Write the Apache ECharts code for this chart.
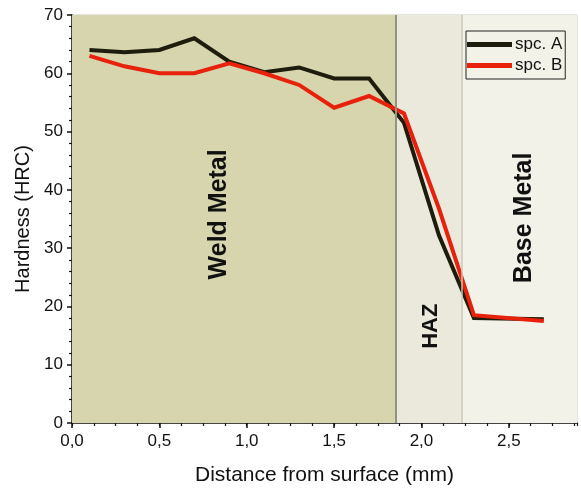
<!DOCTYPE html>
<html>
<head>
<meta charset="utf-8">
<script src="https://cdn.jsdelivr.net/npm/echarts@6/dist/echarts.min.js"></script>
<style>
html,body{margin:0;padding:0;background:#fff;}
#chart{width:581px;height:491px;}
</style>
</head>
<body>
<div id="chart"></div>
<script>
// ---- data ----
const distance = [0.1, 0.3, 0.5, 0.7, 0.9, 1.1, 1.3, 1.5, 1.7, 1.9, 2.1, 2.3, 2.7];
const spcA = [64, 63.6, 64, 66, 62, 60.2, 61, 59.1, 59.1, 51.5, 32.2, 18, 17.8];
const spcB = [63, 61.2, 60, 60, 61.7, 60, 58, 54.1, 56.1, 53.1, 36.8, 18.5, 17.5];
const seriesNames = ['spc. A', 'spc. B'];
const zoneNames = ['Weld Metal', 'HAZ', 'Base Metal'];
const zoneBounds = [0, 1.85, 2.23, 2.89];
const yTicks = [0, 10, 20, 30, 40, 50, 60, 70];
const xTicks = [0, 0.5, 1.0, 1.5, 2.0, 2.5];

const FONT = 'Liberation Sans, Arial, sans-serif';
const fmtComma = v => {
  const r = Math.round(v * 1000) / 1000;
  return xTicks.some(t => Math.abs(t - r) < 1e-6) ? r.toFixed(1).replace('.', ',') : '';
};

const chart = echarts.init(document.getElementById('chart'), null, {renderer: 'canvas'});

const zoneColors = ['#d6d5ad', '#ebe9dc', '#f3f2e8'];

const option = {
  backgroundColor: '#ffffff',
  animation: false,
  grid: {left: 72, right: 4, top: 15, bottom: 67, show: true, borderColor: '#c9c9c0', borderWidth: 1, containLabel: false},
  legend: {
    data: seriesNames,
    orient: 'vertical',
    left: 466, top: 31,
    padding: [5, 3, 5, 1],
    itemGap: 4,
    itemWidth: 45, itemHeight: 5,
    icon: 'rect',
    borderColor: '#222',
    borderWidth: 1,
    textStyle: {fontFamily: FONT, fontSize: 17, color: '#111', padding: [0, 0, 0, -2]}
  },
  xAxis: [{
    type: 'value', min: zoneBounds[0], max: zoneBounds[3], interval: 0.5,
    position: 'bottom',
    name: 'Distance from surface (mm)', nameLocation: 'middle', nameGap: 42,
    nameTextStyle: {fontFamily: FONT, fontSize: 21, color: '#111'},
    axisLine: {show: true, onZero: false, lineStyle: {color: '#111', width: 1.5}},
    axisTick: {show: true, inside: false, length: 5, lineStyle: {color: '#111', width: 1.5}},
    axisLabel: {fontFamily: FONT, fontSize: 17, color: '#111', margin: 10, formatter: fmtComma, showMaxLabel: false},
    splitLine: {show: false}
  }, {
    type: 'value', min: zoneBounds[0], max: zoneBounds[3], interval: 0.125,
    position: 'bottom',
    axisLine: {show: false, onZero: false},
    axisTick: {show: true, inside: false, length: 3, lineStyle: {color: '#111', width: 1.2}},
    axisLabel: {show: false},
    splitLine: {show: false}
  }],
  yAxis: {
    type: 'value', min: 0, max: 70, interval: 10,
    name: 'Hardness (HRC)', nameLocation: 'middle', nameGap: 37,
    nameTextStyle: {fontFamily: FONT, fontSize: 20, color: '#111'},
    axisLine: {show: true, onZero: false, lineStyle: {color: '#111', width: 1.5}},
    axisTick: {show: true, inside: false, length: 5, lineStyle: {color: '#111', width: 1.5}},
    minorTick: {show: true, splitNumber: 5, length: 3, lineStyle: {color: '#111', width: 1.2}},
    axisLabel: {fontFamily: FONT, fontSize: 17, color: '#111', margin: 9,
      formatter: v => yTicks.includes(v) ? String(v) : ''},
    splitLine: {show: false}
  },
  series: [{
    name: seriesNames[0], type: 'line', xAxisIndex: 0,
    data: distance.map((d, i) => [d, spcA[i]]),
    showSymbol: false, symbol: 'none',
    lineStyle: {color: '#1e1c0c', width: 4, join: 'miter'},
    itemStyle: {color: '#1e1c0c'},
    z: 3,
    markArea: {
      silent: true,
      label: {show: false},
      data: [
        [{xAxis: zoneBounds[0], itemStyle: {color: zoneColors[0]}}, {xAxis: zoneBounds[1]}],
        [{xAxis: zoneBounds[1], itemStyle: {color: zoneColors[1]}}, {xAxis: zoneBounds[2]}],
        [{xAxis: zoneBounds[2], itemStyle: {color: zoneColors[2]}}, {xAxis: zoneBounds[3]}]
      ]
    },
    markLine: {
      silent: true, symbol: 'none', label: {show: false},
      data: [
        {xAxis: zoneBounds[1], lineStyle: {color: '#94937f', width: 2, type: 'solid'}},
        {xAxis: zoneBounds[2], lineStyle: {color: '#c8c7b9', width: 1.5, type: 'solid'}}
      ]
    }
  }, {
    name: seriesNames[1], type: 'line', xAxisIndex: 0,
    data: distance.map((d, i) => [d, spcB[i]]),
    showSymbol: false, symbol: 'none',
    lineStyle: {color: '#e8210d', width: 4, join: 'miter'},
    itemStyle: {color: '#e8210d'},
    z: 4
  }, {
    name: 'zones', type: 'scatter', xAxisIndex: 0, symbolSize: 0, silent: true,
    data: [],
    markPoint: {
      symbol: 'circle', symbolSize: 0, silent: true,
      label: {show: true, position: 'inside', rotate: 90, fontFamily: FONT, fontWeight: 'bold', fontSize: 25, color: '#111'},
      data: [
        {coord: [0.842, 35.8], value: zoneNames[0], label: {formatter: zoneNames[0]}},
        {coord: [2.056, 16.6], value: zoneNames[1], label: {formatter: zoneNames[1], fontSize: 22}},
        {coord: [2.585, 35.2], value: zoneNames[2], label: {formatter: zoneNames[2]}}
      ]
    }
  }]
};
chart.setOption(option);
</script>
</body>
</html>
